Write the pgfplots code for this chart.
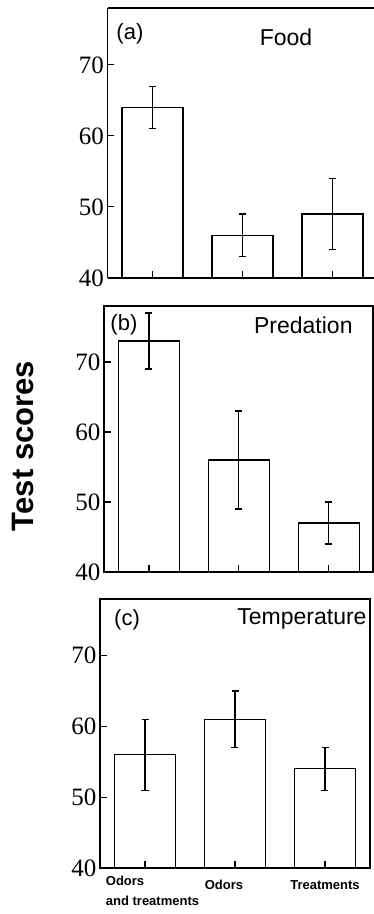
\documentclass[border=0pt]{standalone}
\usepackage{pgfplots}
\pgfplotsset{compat=1.18}
\usepackage{fontspec}
\setmainfont{Liberation Sans}
\newfontfamily\timesf{Liberation Serif}

\pgfplotstableread{
x y e
0 64 3
1 46 3
2 49 5
}\dataA
\pgfplotstableread{
x y e
0 73 4
1 56 7
2 47 3
}\dataB
\pgfplotstableread{
x y e
0 56 5
1 61 4
2 54 3
}\dataC

\pgfplotsset{
 panel/.style={
  ybar, bar width=61pt, bar shift=0pt,
  width=270pt, height=270pt, scale only axis,
  xmin=-0.5, xmax=2.5, ymin=40, ymax=78,
  ytick={40,50,60,70}, xtick={0,1,2},
  xticklabels={,,},
  tick align=inside, xtick align=inside, ytick align=inside,
  tick pos=left, xtick pos=left, ytick pos=left,
  major tick length=7pt,
  axis on top,
  axis line style={line width=1.1pt},
  tick style={black, line width=1.1pt},
  /pgf/number format/assume math mode=true,
  yticklabel style={font=\timesf\fontsize{25}{25}\selectfont},
  anchor=south west,
 },
 barplot/.style={draw=black, fill=white, line width=1.1pt,
  error bars/.cd, y dir=both, y explicit,
  error bar style={line width=1.1pt},
  error mark options={rotate=90, mark size=3.5pt, line width=1.1pt}},
}

\begin{document}
\begin{tikzpicture}
\useasboundingbox (0pt,0pt) rectangle (374pt,914pt);
\clip (0pt,0pt) rectangle (374pt,914pt);

% (a)
\begin{axis}[panel, at={(107.5pt,636pt)}, width=266.5pt, xmax=2.461,
  axis y line*=left]
\addplot[barplot] table[x=x, y=y, y error=e] {\dataA};
\node[font=\fontsize{22}{22}\selectfont] at (rel axis cs:0.084,0.904) {(a)};
\node[font=\fontsize{23}{23}\selectfont] at (rel axis cs:0.67,0.893) {Food};
\end{axis}

% (b)
\begin{axis}[panel, at={(104pt,342pt)}, height=266pt, width=269pt, xmax=2.49]
\addplot[barplot] table[x=x, y=y, y error=e] {\dataB};
\node[font=\fontsize{22}{22}\selectfont] at (rel axis cs:0.074,0.929) {(b)};
\node[font=\fontsize{23}{23}\selectfont] at (rel axis cs:0.741,0.929) {Predation};
\end{axis}

% (c)
\begin{axis}[panel, at={(100pt,46pt)}, height=269pt,
  xticklabels={{\hspace*{15pt}\begin{tabular}[t]{@{}l@{}}Odors\\and treatments\end{tabular}},{\rule{0pt}{18pt}Odors\hspace*{22pt}},{\rule{0pt}{18pt}Treatments}},
  xticklabel style={font=\bfseries\fontsize{13}{20}\selectfont, anchor=north}]
\addplot[barplot] table[x=x, y=y, y error=e] {\dataC};
\node[font=\fontsize{22}{22}\selectfont] at (rel axis cs:0.1,0.922) {(c)};
\node[font=\fontsize{23}{23}\selectfont] at (rel axis cs:0.748,0.925) {Temperature};
\end{axis}

\node[rotate=90, font=\bfseries\fontsize{31}{31}\selectfont] at (23pt,468pt) {Test scores};
\end{tikzpicture}
\end{document}
